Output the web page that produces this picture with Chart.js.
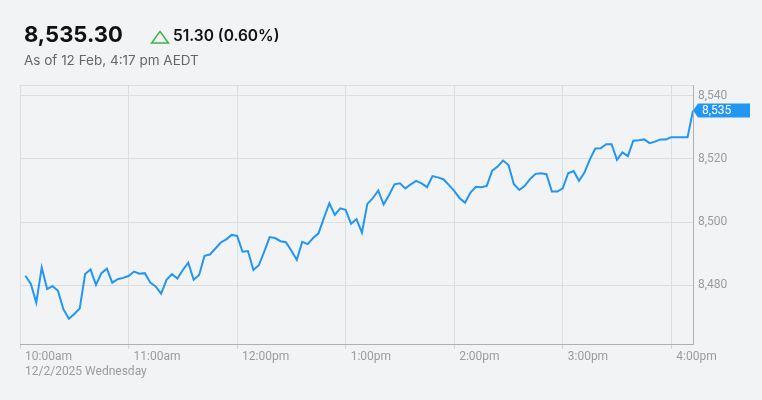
<!DOCTYPE html>
<html>
<head>
<meta charset="utf-8">
<script src="https://cdn.jsdelivr.net/npm/chart.js@4.4.1/dist/chart.umd.min.js"></script>
<style>
    html, body { margin: 0; padding: 0; background: #f2f3f5; width: 762px; height: 400px; overflow: hidden; }
    #wrap { position: relative; width: 762px; height: 400px; }
    #chart { position: absolute; left: 0; top: 0; }
    .price { position: absolute; left: 24px; top: 23px; font: 700 22px/22px Inter, sans-serif; color: #111; }
    .change { position: absolute; left: 173px; top: 28px; font: 600 15.5px/16px Inter, sans-serif; color: #111; }
    .tri { position: absolute; left: 150px; top: 30px; }
    .asof { position: absolute; left: 24px; top: 54px; font: 400 13.5px/13.5px Inter, sans-serif; color: #666; }
</style>
</head>
<body>
<div id="wrap">
    <canvas id="chart" width="762" height="400"></canvas>
    <div class="price">8,535.30</div>
    <svg class="tri" width="20" height="15" viewBox="0 0 20 15">
        <polygon points="10,1.5 18.5,13 1.5,13" fill="none" stroke="#3cb64a" stroke-width="1.5"/>
    </svg>
    <div class="change">51.30 (0.60%)</div>
    <div class="asof">As of 12 Feb, 4:17 pm AEDT</div>
</div>
<script>
// Minutes after 10:00am
const minutes = [
    3, 6, 9, 12, 15, 18, 21, 24, 27, 30, 33, 36, 39, 42, 45, 48, 51, 54, 57, 60,
    63, 66, 69, 72, 75, 78, 81, 84, 87, 90, 93, 96, 99, 102, 105, 108, 111, 114, 117, 120,
    123, 126, 129, 132, 135, 138, 141, 144, 147, 150, 153, 156, 159, 162, 165, 168, 171, 174, 177, 180,
    183, 186, 189, 192, 195, 198, 201, 204, 207, 210, 213, 216, 219, 222, 225, 228, 231, 234, 237, 240,
    243, 246, 249, 252, 255, 258, 261, 264, 267, 270, 273, 276, 279, 282, 285, 288, 291, 294, 297, 300,
    303, 306, 309, 312, 315, 318, 321, 324, 327, 330, 333, 336, 339, 342, 345, 348, 351, 354, 357, 360,
    363, 366, 369, 372
];

// Index level
const indexValues = [
    8483.1, 8480.5, 8474.6, 8485.7, 8478.9, 8479.8, 8478.3, 8472.5, 8469.5, 8471.0,
    8472.7, 8483.6, 8485.1, 8480.2, 8483.9, 8485.3, 8480.9, 8482.0, 8482.4, 8483.0,
    8484.4, 8483.7, 8483.9, 8480.9, 8479.7, 8477.4, 8481.8, 8483.6, 8482.2, 8484.9,
    8487.2, 8481.8, 8483.3, 8489.4, 8489.8, 8491.7, 8493.6, 8494.6, 8496.0, 8495.7,
    8490.7, 8490.9, 8484.9, 8486.4, 8490.7, 8495.3, 8495.0, 8494.0, 8493.7, 8491.0,
    8488.1, 8493.8, 8493.1, 8495.0, 8496.5, 8501.4, 8506.0, 8502.3, 8504.4, 8503.9,
    8499.5, 8501.0, 8496.7, 8505.8, 8507.6, 8510.0, 8505.6, 8508.6, 8512.0, 8512.3,
    8510.7, 8512.0, 8513.1, 8512.3, 8511.1, 8514.6, 8514.2, 8513.6, 8511.8, 8509.9,
    8507.6, 8506.2, 8509.4, 8511.2, 8511.1, 8511.5, 8516.3, 8517.6, 8519.5, 8518.1,
    8512.0, 8510.2, 8511.5, 8513.7, 8515.3, 8515.5, 8515.2, 8509.7, 8509.7, 8510.7,
    8515.5, 8516.2, 8513.1, 8515.7, 8519.9, 8523.3, 8523.4, 8524.7, 8524.7, 8519.7,
    8522.1, 8520.9, 8525.8, 8525.9, 8526.2, 8525.0, 8525.5, 8526.2, 8526.2, 8526.9,
    8526.9, 8526.9, 8526.9, 8535.3
];

const hourTicks = [0, 60, 120, 180, 240, 300, 360];
const hourLabels = ['10:00am', '11:00am', '12:00pm', '1:00pm', '2:00pm', '3:00pm', '4:00pm'];
const dateLabel = '12/2/2025 Wednesday';
const yTicks = [8540, 8520, 8500, 8480];
const xMax = 372;
const yMin = 8461.5;
const yMax = 8543.4;

const tickFont = { family: 'Roboto', size: 12 };
const tickColor = '#9b9b9b';
const lineColor = '#2196f3';

// Blue flag with last value on the right axis
const lastValueFlag = {
    id: 'lastValueFlag',
    afterDraw(chart) {
        const { ctx, scales: { x, y } } = chart;
        const last = indexValues[indexValues.length - 1];
        const px = x.getPixelForValue(minutes[minutes.length - 1]);
        const py = y.getPixelForValue(last);
        ctx.save();
        ctx.fillStyle = lineColor;
        ctx.beginPath();
        ctx.moveTo(px, py);
        ctx.lineTo(px + 5, py - 7);
        ctx.lineTo(750, py - 7);
        ctx.lineTo(750, py + 7);
        ctx.lineTo(px + 5, py + 7);
        ctx.closePath();
        ctx.fill();
        ctx.fillStyle = '#fff';
        ctx.font = '12px Roboto';
        ctx.textBaseline = 'middle';
        ctx.fillText(Math.round(last).toLocaleString('en-US'), px + 9, py + 0.5);
        ctx.restore();
    }
};

const ctx = document.getElementById('chart').getContext('2d');
new Chart(ctx, {
    type: 'line',
    data: {
        datasets: [{
            data: minutes.map((m, i) => ({ x: m, y: indexValues[i] })),
            borderColor: lineColor,
            borderWidth: 2,
            pointRadius: 0,
            tension: 0,
            fill: false
        }]
    },
    options: {
        responsive: false,
        animation: false,
        layout: { padding: { left: 20, top: 85, right: 0, bottom: 0 } },
        plugins: {
            legend: { display: false },
            tooltip: { enabled: false }
        },
        scales: {
            x: {
                type: 'linear',
                min: 0,
                max: xMax,
                afterBuildTicks: (scale) => { scale.ticks = hourTicks.map(v => ({ value: v })); },
                afterFit: (scale) => { scale.height = 56; },
                grid: { color: '#dddddd', tickColor: '#d6d6d6', tickLength: 5 },
                border: { color: '#b0b0b0' },
                ticks: {
                    align: 'start',
                    labelOffset: 5,
                    padding: 1,
                    maxRotation: 0,
                    autoSkip: false,
                    color: tickColor,
                    font: tickFont,
                    callback: (value) => {
                        const i = hourTicks.indexOf(value);
                        return i === 0 ? [hourLabels[0], dateLabel] : hourLabels[i];
                    }
                }
            },
            y: {
                position: 'right',
                min: yMin,
                max: yMax,
                afterBuildTicks: (scale) => {
                    scale.ticks = yTicks.map(v => ({ value: v })).concat([{ value: yMax }]);
                },
                afterFit: (scale) => { scale.width = 69; },
                grid: { color: '#dddddd', drawTicks: false },
                border: { color: '#b0b0b0' },
                ticks: {
                    padding: 5,
                    color: tickColor,
                    font: tickFont,
                    callback: (value) => yTicks.includes(value) ? value.toLocaleString('en-US') : ''
                }
            }
        }
    },
    plugins: [lastValueFlag]
});
</script>
</body>
</html>
